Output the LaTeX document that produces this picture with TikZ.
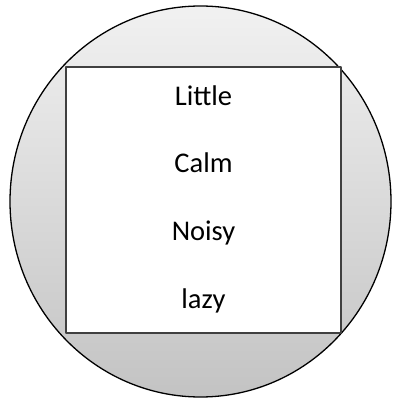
\documentclass[tikz,border=0pt]{standalone}
\usepackage{fontspec}
\setmainfont{Carlito}
\begin{document}
\begin{tikzpicture}[
  x=1pt,
  y=1pt,
  line join=round,
  disc/.style={draw=black,line width=1.3pt,top color=gray!11,bottom color=gray!47},
  box/.style={draw=black!75,line width=1.1pt,fill=white},
  word/.style={anchor=base,inner sep=0pt,font=\fontsize{28.5}{34}\selectfont}
]
  \useasboundingbox (0,0) rectangle (392,400);

  % Shaded outer disc.
  \coordinate (centre) at (200.5,198.5);
  \path[disc] (centre) ellipse [x radius=190.5,y radius=195.5];

  % Inner square.
  \coordinate (sw) at (66,67);
  \coordinate (ne) at (341,333);
  \path[box] (sw) rectangle (ne);

  % Words in the square.
  \node[word] (little) at (203.5,294) {Little};
  \node[word] (calm)   at (203.5,227) {Calm};
  \node[word] (noisy)  at (203.5,159) {Noisy};
  \node[word] (lazy)   at (203.5,92)  {lazy};
\end{tikzpicture}
\end{document}
